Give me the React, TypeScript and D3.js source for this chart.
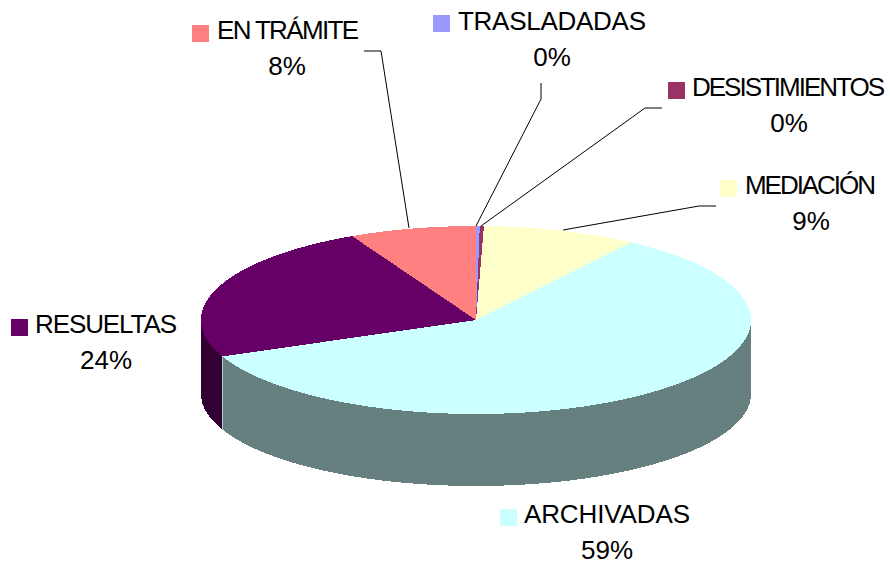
import React from "react";
import * as d3 from "d3";

const categories = ["TRASLADADAS", "DESISTIMIENTOS", "MEDIACIÓN", "ARCHIVADAS", "RESUELTAS", "EN TRÁMITE"];
const values = [0.22, 0.24, 9.1, 59.1, 23.9, 7.44];
const percentLabels = ["0%", "0%", "9%", "59%", "24%", "8%"];
const topColors = ["#9999FF", "#993366", "#FFFFCC", "#CCFFFF", "#660066", "#FF8080"];
const sideColors = ["#4C4C7F", "#4C1933", "#7F7F66", "#667F7F", "#330033", "#7F4040"];
const swatchPos = [[433, 15], [668, 82], [720, 180], [500, 509], [11, 319], [192, 25]];
const labelStart = [458, 692, 745, 524, 35, 217];
const labelWidth = [188, 193, 131, 166, 142, 142];
const labelBase = [30, 96, 194, 523, 333, 39];
const pctCenter = [552, 789, 811, 607, 106, 287];
const leaders = [
  [[541, 83], [541, 99], [476, 226]],
  [[662, 108], [645, 108], [481, 226]],
  [[716, 206], [699, 206], [563, 230]],
  [],
  [],
  [[364, 51], [381, 51], [409, 228]],
];

const cx = 476, cy = 320, rx = 275, ry = 94;
const bottomCy = 394, bottomRy = 92;

const top = (a: number): [number, number] => [cx + rx * Math.sin(a), cy - ry * Math.cos(a)];
const bot = (a: number): [number, number] => [cx + rx * Math.sin(a), bottomCy - bottomRy * Math.cos(a)];
const line = d3.line();

export default function App() {
  const arcs = d3.pie<number>().sort(null).startAngle(0).endAngle(2 * Math.PI)(values);
  const samples = (a0: number, a1: number) => {
    const n = Math.max(2, Math.ceil((a1 - a0) * 40));
    return d3.range(n + 1).map((i) => a0 + ((a1 - a0) * i) / n);
  };
  const wall = arcs[3].endAngle;
  return (
    <svg width={890} height={568} style={{ position: "absolute", left: 0, top: 0, background: "#fff" }}
      fontFamily="'Liberation Sans', Arial, sans-serif" fontSize={26} fill="#000">
      <g shapeRendering="crispEdges">
        {arcs.map((d, i) => {
          const a0 = Math.max(d.startAngle, Math.PI / 2);
          const a1 = Math.min(d.endAngle, (3 * Math.PI) / 2);
          if (a1 <= a0) return null;
          const s = samples(a0, a1);
          return <path key={"side" + i} d={(line([...s.map(top), ...s.slice().reverse().map(bot)]) ?? "") + "Z"} fill={sideColors[i]} />;
        })}
        <path d={line([top(wall), bot(wall)]) ?? ""} stroke="#B0D0D0" strokeWidth={1} fill="none" />
        {arcs.map((d, i) => (
          <path key={"top" + i} d={(line([[cx, cy], ...samples(d.startAngle, d.endAngle).map(top)]) ?? "") + "Z"} fill={topColors[i]} />
        ))}
      </g>
      {leaders.map((l, i) => l.length ? (
        <path key={"l" + i} d={line(l as [number, number][]) ?? ""} fill="none" stroke="#000" strokeWidth={1} />
      ) : null)}
      {categories.map((c, i) => (
        <g key={c}>
          <rect x={swatchPos[i][0]} y={swatchPos[i][1]} width={17} height={17} fill={topColors[i]} />
          <text x={labelStart[i]} y={labelBase[i]} textLength={labelWidth[i]} lengthAdjust="spacing">{c}</text>
          <text x={pctCenter[i]} y={labelBase[i] + 36} textAnchor="middle">{percentLabels[i]}</text>
        </g>
      ))}
    </svg>
  );
}
